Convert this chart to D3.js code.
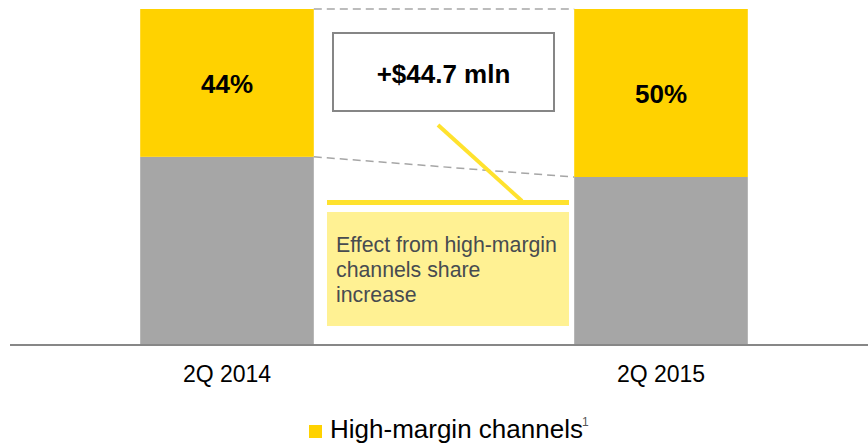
<!DOCTYPE html>
<html>
<head>
<meta charset="utf-8">
<script src="https://cdn.jsdelivr.net/npm/d3@7"></script>
<style>
body { margin: 0; background: #fff; }
svg { display: block; font-family: "Liberation Sans", Arial, sans-serif; }
</style>
</head>
<body>
<script>
var kwartaly = ["2Q 2014", "2Q 2015"]
var udzialWysokiMarza = [44, 50]
var udzialPozostale = [56, 50]
var etykiety = ["44%", "50%"]
var efektTekst = "+$44.7 mln"
var opisLinie = ["Effect from high-margin", "channels share", "increase"]
var legendaTekst = "High-margin channels"

var zolty = "#FFD200"
var szary = "#A6A6A6"

var obrazek = d3.select("body").append("svg")
  .attr("width", 868)
  .attr("height", 444)

var x = d3.scaleBand().domain(kwartaly).range([10, 878]).paddingInner(0.6).paddingOuter(0.3)
var y = d3.scaleLinear().domain([0, 100]).range([345, 9])

var dane = kwartaly.map(function(k, i) {
  return {k: k, gora: udzialWysokiMarza[i], dol: udzialPozostale[i], lab: etykiety[i]}
})

// dolna czesc (szara)
obrazek.append("g").selectAll("rect")
  .data(dane)
  .enter()
  .append("rect")
  .attr("x", function(d) { return x(d.k) })
  .attr("width", x.bandwidth())
  .attr("y", function(d) { return y(d.dol) })
  .attr("height", function(d) { return y(0) - y(d.dol) })
  .style("fill", szary)

// gorna czesc (zolta)
obrazek.append("g").selectAll("rect")
  .data(dane)
  .enter()
  .append("rect")
  .attr("x", function(d) { return x(d.k) })
  .attr("width", x.bandwidth())
  .attr("y", function(d) { return y(d.dol + d.gora) })
  .attr("height", function(d) { return y(d.dol) - y(d.dol + d.gora) })
  .style("fill", zolty)

obrazek.append("g").selectAll("text")
  .data(dane)
  .enter()
  .append("text")
  .attr("x", function(d) { return x(d.k) + x.bandwidth() / 2 })
  .attr("y", function(d) { return (y(d.dol) + y(d.dol + d.gora)) / 2 })
  .attr("dy", "0.4em")
  .attr("text-anchor", "middle")
  .style("font-size", "26px")
  .style("font-weight", "bold")
  .style("fill", "#000")
  .text(function(d) { return d.lab })

// przerywane linie laczace
var x1 = x(kwartaly[0]) + x.bandwidth()
var x2 = x(kwartaly[1])
obrazek.append("line")
  .attr("x1", x1).attr("y1", y(100)).attr("x2", x2).attr("y2", y(100))
  .style("stroke", "#A6A6A6").style("stroke-width", 1.5).style("stroke-dasharray", "8,5")
obrazek.append("line")
  .attr("x1", x1).attr("y1", y(udzialPozostale[0])).attr("x2", x2).attr("y2", y(udzialPozostale[1]))
  .style("stroke", "#A6A6A6").style("stroke-width", 1.5).style("stroke-dasharray", "8,5")

// os
obrazek.append("line")
  .attr("x1", 10).attr("x2", 868).attr("y1", 345).attr("y2", 345)
  .style("stroke", "#878787").style("stroke-width", 2)

var osX = obrazek.append("g")
  .attr("transform", "translate(0,345)")
  .call(d3.axisBottom(x).tickSize(0).tickPadding(0))
osX.select(".domain").remove()
osX.selectAll("text")
  .attr("y", 37)
  .attr("dy", 0)
  .style("font-family", "Liberation Sans, Arial, sans-serif")
  .style("font-size", "23px")
  .style("fill", "#000")

// ramka z efektem
obrazek.append("rect")
  .attr("x", 333).attr("y", 33).attr("width", 221).attr("height", 78)
  .style("fill", "#fff").style("stroke", "#868686").style("stroke-width", 2)
obrazek.append("text")
  .attr("x", 443.5).attr("y", 83)
  .attr("text-anchor", "middle")
  .style("font-size", "26px")
  .style("font-weight", "bold")
  .text(efektTekst)

// zolte linie
obrazek.append("line")
  .attr("x1", 438).attr("y1", 125).attr("x2", 522).attr("y2", 201)
  .style("stroke", "#FFE22E").style("stroke-width", 4)
obrazek.append("line")
  .attr("x1", 327).attr("y1", 202.5).attr("x2", 569).attr("y2", 202.5)
  .style("stroke", "#FFE22E").style("stroke-width", 5)

obrazek.append("rect")
  .attr("x", 327).attr("y", 212).attr("width", 242).attr("height", 114)
  .style("fill", "#FFF193")
obrazek.append("g").selectAll("text")
  .data(opisLinie)
  .enter()
  .append("text")
  .attr("x", 336)
  .attr("y", function(d, i) { return 252 + i * 25 })
  .style("font-size", "21.3px")
  .style("fill", "#474b50")
  .text(function(d) { return d })

// legenda
obrazek.append("rect")
  .attr("x", 309).attr("y", 425).attr("width", 13).attr("height", 13)
  .style("fill", zolty)
obrazek.append("text")
  .attr("x", 330).attr("y", 438)
  .style("font-size", "26px")
  .style("fill", "#000")
  .text(legendaTekst)
obrazek.append("text")
  .attr("x", 582).attr("y", 426)
  .style("font-size", "12px")
  .style("fill", "#555")
  .text("1")
</script>
</body>
</html>
